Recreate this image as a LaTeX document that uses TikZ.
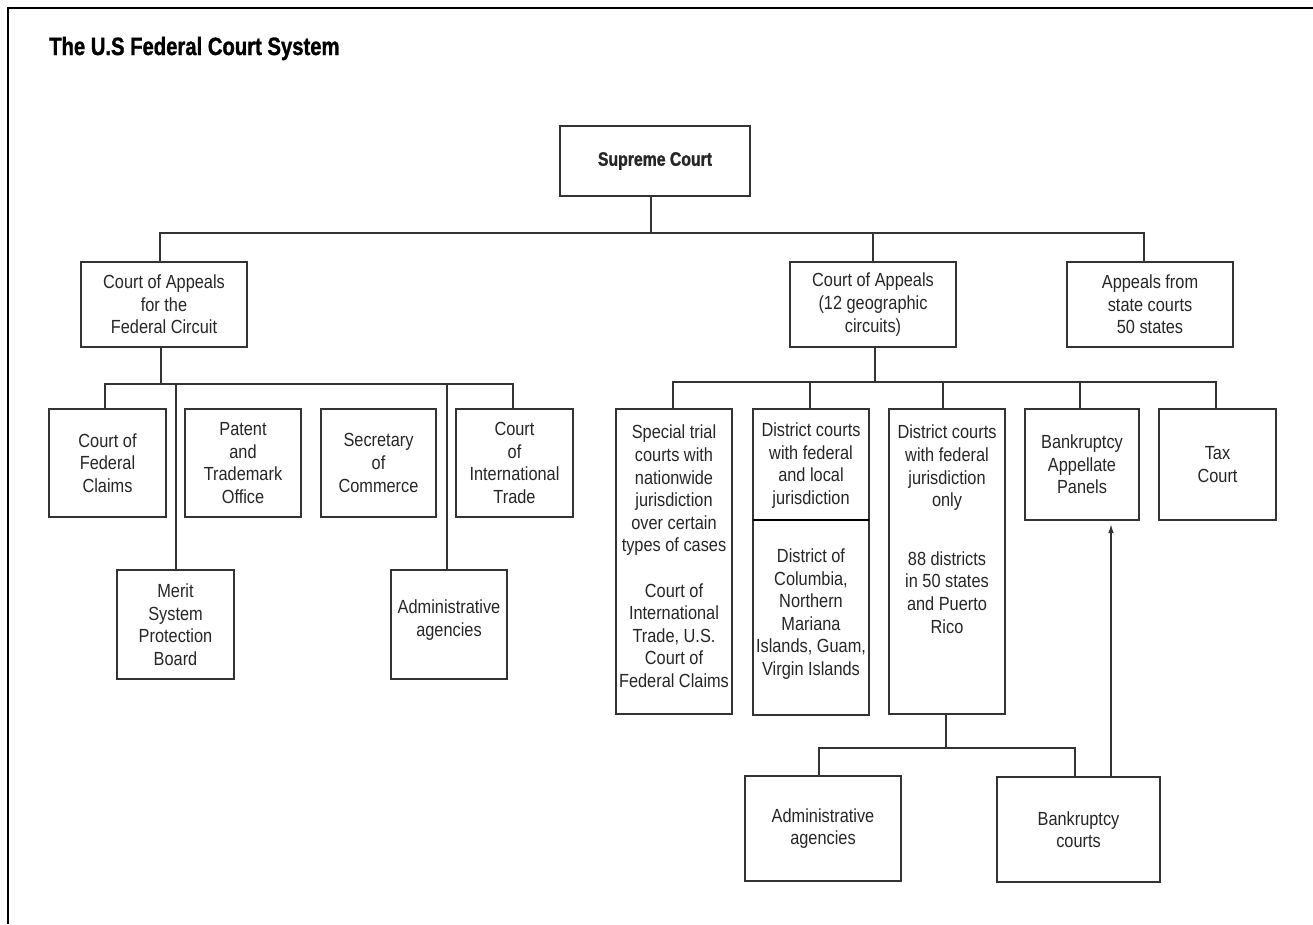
\documentclass[tikz,border=0pt]{standalone}
\usepackage{fontspec}
\setmainfont{Liberation Sans}[FakeStretch=0.86]
\newfontfamily\headfont{Liberation Sans}[FakeStretch=0.81, BoldFeatures={FakeBold=1.2}]
\usetikzlibrary{arrows.meta}

\definecolor{ink}{HTML}{262626}
\definecolor{rule}{HTML}{333333}

\tikzset{
  box/.style={draw=rule, line width=1.4pt, rectangle, inner sep=0pt, outer sep=0pt},
  txt/.style={text=ink, font=\fontsize{19}{22.6}\selectfont, align=center, inner sep=0pt},
  link/.style={draw=rule, line width=1.4pt},
  frame/.style={draw=black, line width=2.6pt},
}

% \courtbox{name}{left}{top}{right}{bottom}: empty box with its corners given in page units
\newcommand\courtbox[5]{%
  \node[box, minimum width={(#4-#2)*1pt}, minimum height={(#5-#3)*1pt}]
    (#1) at ({(#2+#4)/2},{(#3+#5)/2}) {};}

\begin{document}
\begin{tikzpicture}[x=1pt, y=-1pt]
\useasboundingbox (0,0) rectangle (1313,924);

% outer frame (left and top edges)
\draw[frame] (8,924) -- (8,8) -- (1313,8);

% title
\node[anchor=base west, inner sep=0pt, text=black,
      font=\headfont\bfseries\fontsize{25}{30}\selectfont] (title) at (49,55)
  {The U.S Federal Court System};

% ---- boxes ----
\courtbox{sc}{560}{126}{750}{196}
\courtbox{lca}{81}{262}{247}{347}
\courtbox{rca}{790}{262}{956}{347}
\courtbox{asc}{1067}{262}{1233}{347}

\courtbox{cfc}{49}{409}{166}{517}
\courtbox{pto}{185}{409}{301}{517}
\courtbox{soc}{321}{409}{436}{517}
\courtbox{cit}{456}{409}{573}{517}
\courtbox{msp}{117}{570}{234}{679}
\courtbox{adma}{391}{570}{507}{679}

\courtbox{stc}{616}{409}{732}{714}
\courtbox{dfl}{753}{409}{869}{715}
\courtbox{dfo}{889}{409}{1005}{714}
\courtbox{bap}{1025}{409}{1139}{520}
\courtbox{tax}{1159}{409}{1276}{520}

\courtbox{admb}{745}{776}{901}{881}
\courtbox{bkc}{997}{777}{1160}{882}

% divider inside the district-court box
\draw[line width=2.2pt, black] (dfl.west |- 0,520) -- (dfl.east |- 0,520);

% ---- texts ----
\node[inner sep=0pt, text=ink, font=\headfont\bfseries\fontsize{19.5}{23}\selectfont]
  (sc-t) at (sc) {Supreme Court};
\node[txt] (lca-t) at (lca) {Court of Appeals\\for the\\Federal Circuit};
\node[txt] (rca-t) at (rca) {Court of Appeals\\(12 geographic\\circuits)};
\node[txt] (asc-t) at (asc) {Appeals from\\state courts\\50 states};

\node[txt] (cfc-t) at (cfc) {Court of\\Federal\\Claims};
\node[txt] (pto-t) at (pto) {Patent\\and\\Trademark\\Office};
\node[txt] (soc-t) at (soc) {Secretary\\of\\Commerce};
\node[txt] (cit-t) at (cit) {Court\\of\\International\\Trade};
\node[txt] (msp-t) at (msp) {Merit\\System\\Protection\\Board};
\node[txt] (adma-t) at (449,620) {Administrative\\agencies};

\node[txt, anchor=north] (stc-t) at (674,425)
  {Special trial\\courts with\\nationwide\\jurisdiction\\over certain\\types of cases\\[22.6pt]
   Court of\\International\\Trade, U.S.\\Court of\\Federal Claims};
\node[txt] (dfl-t) at (811,465.5) {District courts\\with federal\\and local\\jurisdiction};
\node[txt] (dfl-b) at (811,614) {District of\\Columbia,\\Northern\\Mariana\\Islands, Guam,\\Virgin Islands};
\node[txt, anchor=north] (dfo-t) at (947,425)
  {District courts\\with federal\\jurisdiction\\only\\[36pt]
   88 districts\\in 50 states\\and Puerto\\Rico};
\node[txt] (bap-t) at (bap) {Bankruptcy\\Appellate\\Panels};
\node[txt] (tax-t) at (tax) {Tax\\Court};

\node[txt] (admb-t) at (admb) {Administrative\\agencies};
\node[txt] (bkc-t) at (bkc) {Bankruptcy\\courts};

% ---- connectors ----
% Supreme Court to the three courts below it
\draw[link] ([xshift=-4pt]sc.south) -- ++(0,37);
\draw[link] ([xshift=-4pt]lca.north) -- ++(0,-29) -| ([xshift=-6pt]asc.north);
\draw[link] (rca.north) -- ++(0,-29);

% Federal Circuit branch
\draw[link] ([xshift=-3pt]lca.south) -- ++(0,37);
\draw[link] ([xshift=-2.5pt]cfc.north) -- ++(0,-25) -| ([xshift=-1.5pt]cit.north);
\draw[link] ([xshift=0.5pt]msp.north) -- ++(0,-186);
\draw[link] ([xshift=-2pt]adma.north) -- ++(0,-186);

% geographic circuits branch
\draw[link] ([xshift=2pt]rca.south) -- ++(0,35);
\draw[link] ([xshift=-1pt]stc.north) -- ++(0,-27) -| ([xshift=-1.5pt]tax.north);
\draw[link] ([xshift=-1pt]dfl.north) -- ++(0,-27);
\draw[link] ([xshift=-4pt]dfo.north) -- ++(0,-27);
\draw[link] ([xshift=-2pt]bap.north) -- ++(0,-27);

% district courts to agencies and bankruptcy courts
\draw[link] ([xshift=-1pt]dfo.south) -- ++(0,34);
\draw[link] ([xshift=-4pt]admb.north) -- ++(0,-28) -| ([xshift=-3.5pt]bkc.north);

% bankruptcy courts appeal to the appellate panels
\draw[link, -{Latex[length=9pt,width=5.5pt]}, shorten >=4pt]
  ([xshift=32.5pt]bkc.north) -- ([xshift=32.5pt]bkc.north |- bap.south);

\end{tikzpicture}
\end{document}
